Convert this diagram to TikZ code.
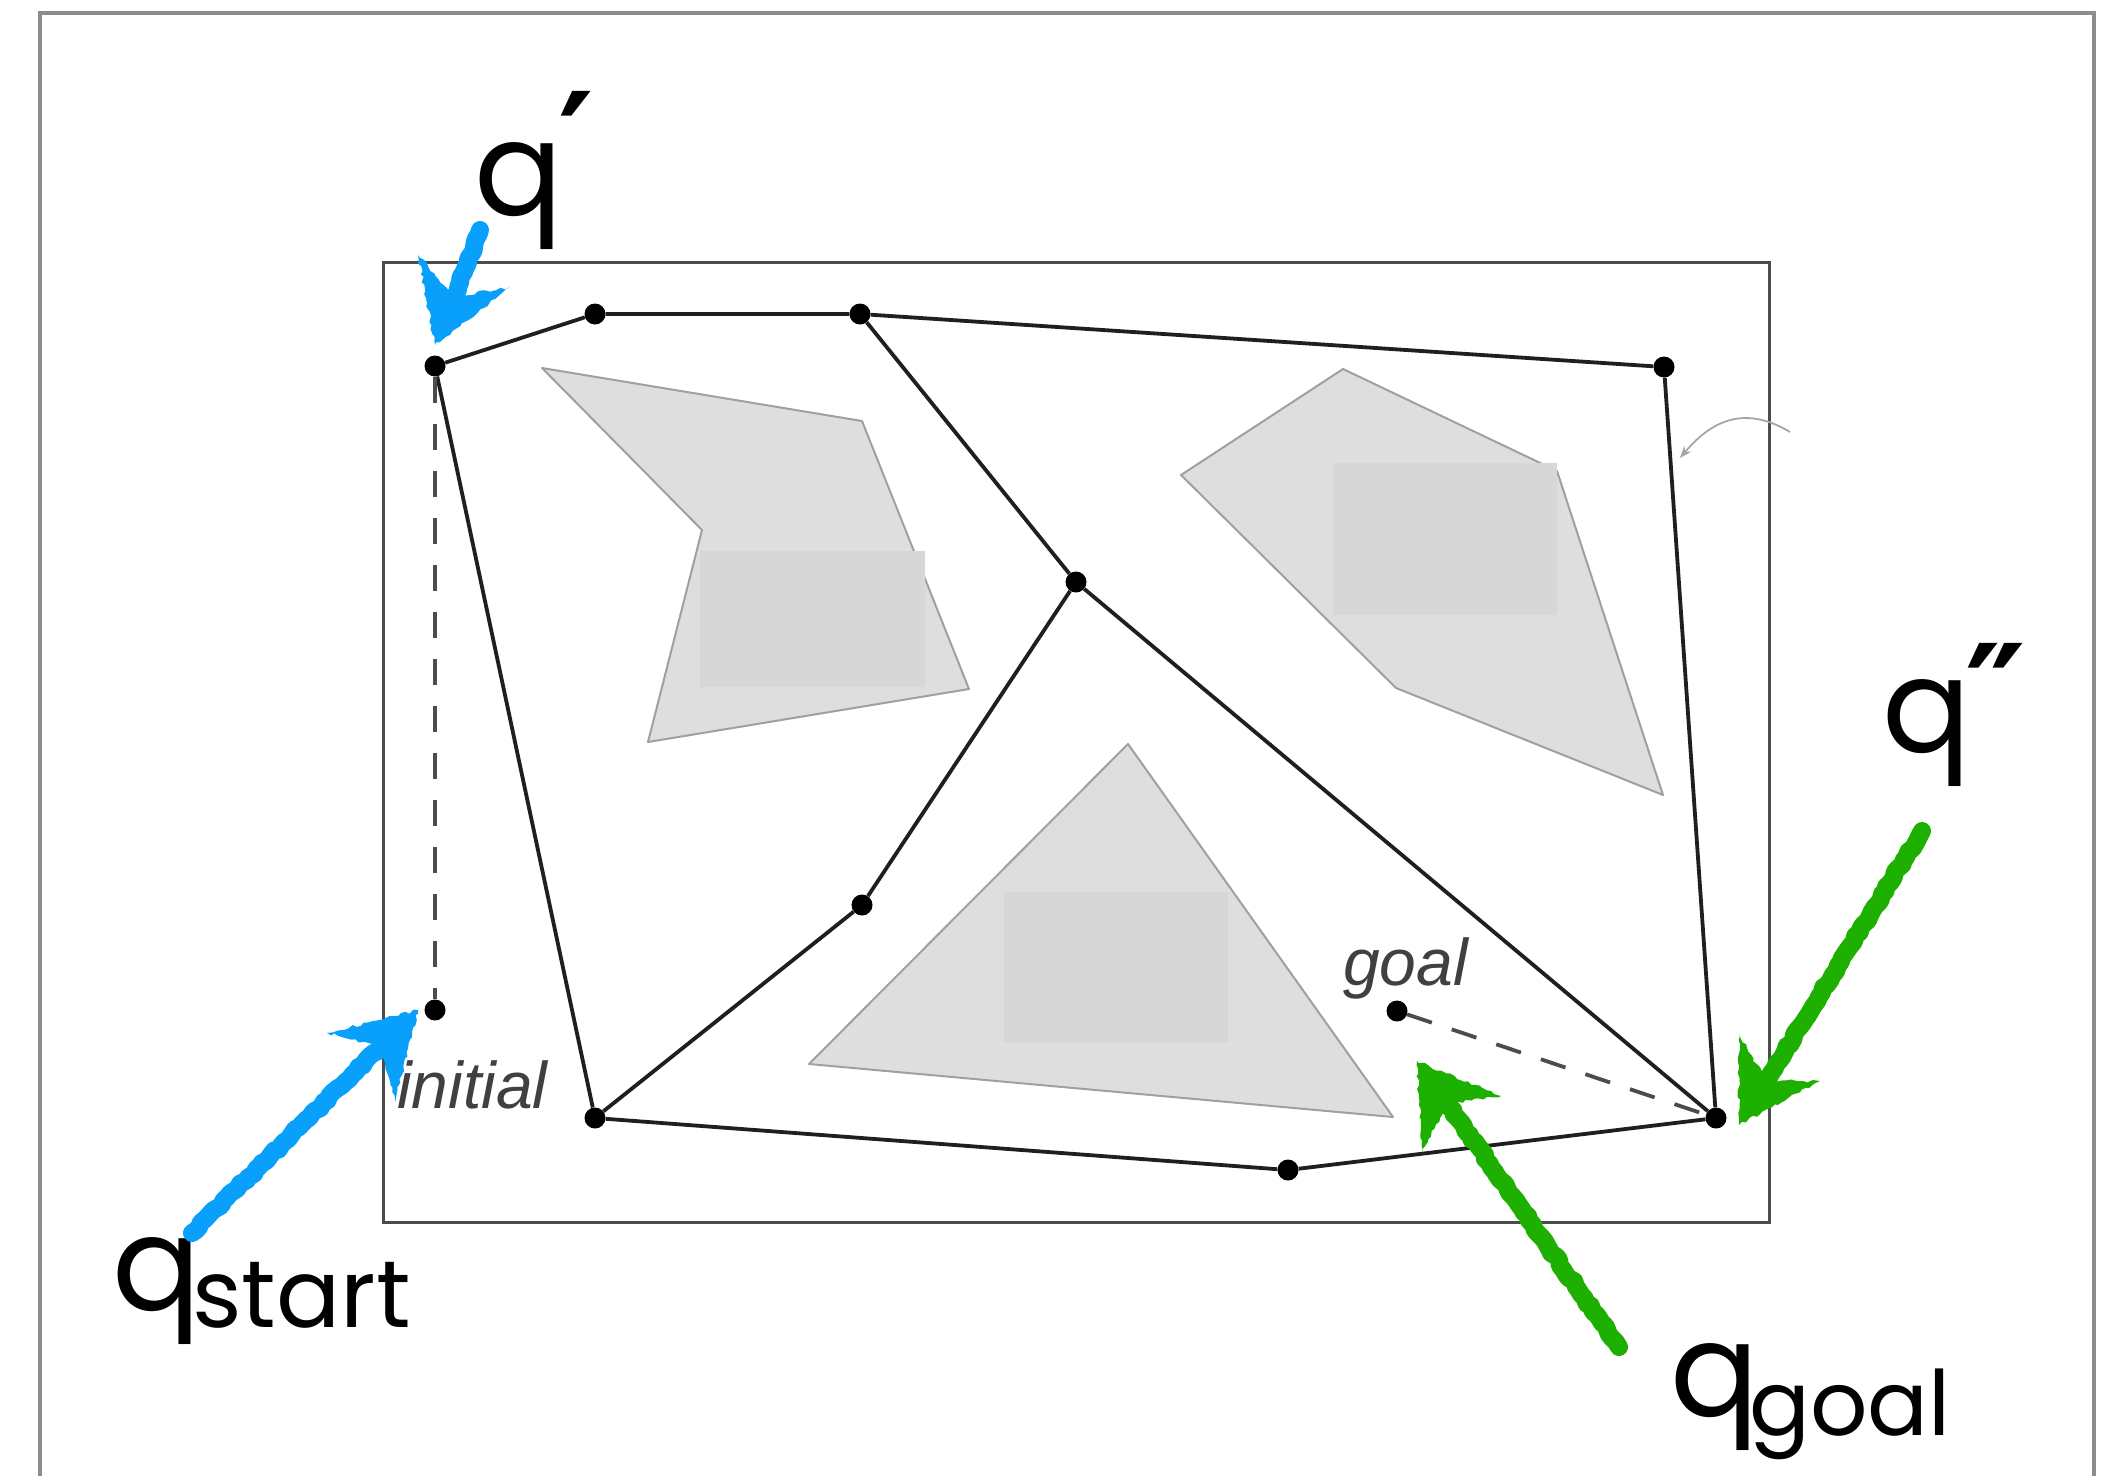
\documentclass[tikz,border=0pt]{standalone}
\usepackage{fontspec}
\usetikzlibrary{calc,decorations.pathmorphing,arrows.meta}
\newfontfamily\hand{Poppins}
\newfontfamily\helv{Liberation Sans}
\newfontfamily\symf{DejaVu Sans}
\definecolor{skyb}{RGB}{8,160,250}
\definecolor{grn}{RGB}{30,176,0}
\definecolor{framec}{RGB}{138,141,145}
\definecolor{obst}{RGB}{222,222,222}
\definecolor{obstin}{RGB}{215,215,215}
\definecolor{obstline}{RGB}{160,160,160}
\begin{document}
\begin{tikzpicture}[x=1pt,y=-1pt,
  vtx/.style={circle,fill=black,inner sep=0pt,minimum size=21pt},
  graphline/.style={line width=3.8pt,draw=black!88},
  dashline/.style={line width=3.8pt,draw=black!70,dash pattern=on 26pt off 21pt},
  obstacle/.style={fill=obst,draw=obstline,line width=2pt,line join=round},
  obstcore/.style={fill=obstin},
  lbl/.style={font=\helv\itshape\fontsize{66}{66}\selectfont,text=black!75,inner sep=0pt,anchor=base west},
  qbig/.style={font=\hand\fontsize{131}{131}\selectfont,inner sep=0pt,anchor=base west,text height=70pt,text depth=40pt},
  qsub/.style={font=\hand\fontsize{95}{95}\selectfont,inner sep=0pt,anchor=base west},
  primemark/.style={font=\symf\bfseries\fontsize{136}{136}\selectfont,inner sep=0pt,anchor=base,text height=100pt,text depth=-68pt},
  shaft/.style={line width=18pt,line cap=round,line join=round,decorate,decoration={random steps,segment length=5pt,amplitude=1.5pt}},
  ahead/.style={line join=round,decorate,decoration={random steps,segment length=4pt,amplitude=1.5pt}}
]
\pgfmathsetseed{7}
\useasboundingbox (0,0) rectangle (2111,1475);
\fill[white] (0,0) rectangle (2111,1475);
% outer frame
\draw[framec,line width=4pt] (40,1478) -- (40,13) -- (2094,13) -- (2094,1478);
% inner workspace
\draw[line width=3pt,draw=black!70] (383,262) rectangle (1769,1222);
% obstacles
\draw[obstacle] (542,368) -- (862,421) -- (969,689) -- (648,742) -- (702,530) -- cycle;
\fill[obstcore] (700,551) rectangle (925,687);
\draw[obstacle] (1343,369) -- (1557,471) -- (1663,795) -- (1396,688) -- (1181,475) -- cycle;
\fill[obstcore] (1333,463) rectangle (1557,615);
\draw[obstacle] (1128,744) -- (1393,1117) -- (809,1064) -- cycle;
\fill[obstcore] (1004,892) rectangle (1228,1042);
% small grey curved arrow
\coordinate (ca1) at (1790,432);
\coordinate (ca2) at (1680,458);
\draw[black!35,line width=1.8pt,-{Stealth[length=12pt,width=9pt]}] (ca1) .. controls (1745,405) and (1712,420) .. (ca2);
% vertices
\node[vtx] (A) at (435,366) {};
\node[vtx] (B) at (595,314) {};
\node[vtx] (C) at (860,314) {};
\node[vtx] (D) at (1664,367) {};
\node[vtx] (E) at (1076,582) {};
\node[vtx] (F) at (862,905) {};
\node[vtx] (G) at (595,1118) {};
\node[vtx] (H) at (1288,1170) {};
\node[vtx] (I) at (1716,1118) {};
\node[vtx] (init) at (435,1010) {};
\node[vtx] (goal) at (1397,1011) {};
% roadmap edges
\draw[graphline] (A) -- (B) -- (C) -- (D) -- (I);
\draw[graphline] (A) -- (G) -- (H) -- (I);
\draw[graphline] (C) -- (E) -- (I);
\draw[graphline] (E) -- (F) -- (G);
\draw[dashline] (A) -- (init);
\draw[dashline] (goal) -- (I);
% labels
\node[lbl] (initlbl) at (397,1108) {initial};
\node[lbl] (goallbl) at (1343,985) {goal};
\node[qbig] (qp) at (474,215) {q};
\node[primemark] (qpm) at (576,190) {′};
\node[qbig] (qs) at (112,1310) {q};
\node[qsub] (qss) at (192,1327) {start};
\node[qbig] (qg) at (1670,1416) {q};
\node[qsub,font=\hand\fontsize{90}{90}\selectfont] (qgs) at (1749,1435) {goal};
\node[qbig] (qpp) at (1882,752) {q};
\node[primemark] (qppm) at (1996,742) {″};
% sketchy arrows
\newcommand{\crayonarrow}[6]{%
  \coordinate (#2t) at #3;
  \coordinate (#2h) at #4;
  \draw[#1,shaft] (#2t) -- ($(#2h)!32pt!(#2t)$);
  \fill[#1,ahead] (#2h) -- #5 -- ($(#2h)!52pt!(#2t)$) -- #6 -- cycle;
}
\crayonarrow{skyb}{ba}{(480,230)}{(435,345)}{(418,255)}{(510,287)}
\crayonarrow{skyb}{bb}{(192,1233)}{(418,1010)}{(327,1033)}{(395,1102)}
\crayonarrow{grn}{ga}{(1922,831)}{(1739,1125)}{(1739,1034)}{(1820,1081)}
\crayonarrow{grn}{gb}{(1619,1347)}{(1417,1061)}{(1422,1153)}{(1501,1096)}
\end{tikzpicture}
\end{document}
